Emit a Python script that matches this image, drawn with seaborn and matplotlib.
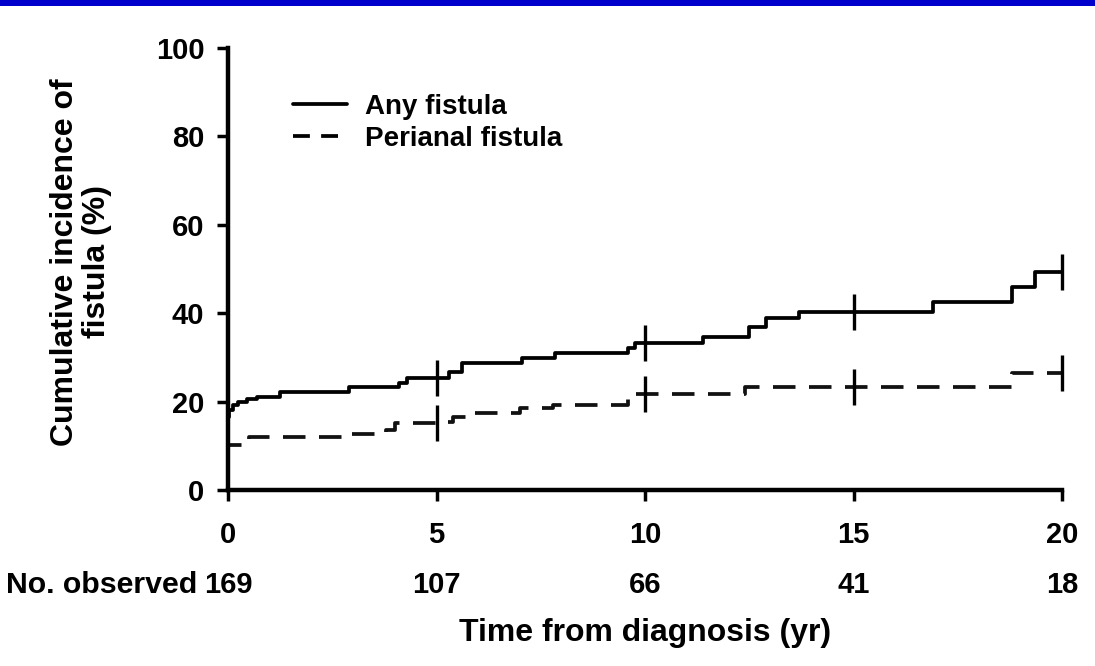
import numpy as np
import pandas as pd
import matplotlib
matplotlib.use("Agg")
import matplotlib.pyplot as plt
from matplotlib.lines import Line2D
from matplotlib.patches import Rectangle
import seaborn as sns

# ---- data ----
any_t = [0, 0, 0.03, 0.12, 0.25, 0.45, 0.7, 1.25, 2.9, 4.1, 4.3, 5.3, 5.6, 7.05, 7.85,
         9.6, 9.75, 11.4, 12.5, 12.9, 13.7, 16.9, 18.8, 19.35, 20]
any_v = [0, 16.5, 18.0, 19.2, 20.0, 20.6, 21.0, 22.2, 23.2, 24.3, 25.3, 26.7, 28.7, 29.9, 31.0,
         32.2, 33.3, 34.6, 36.9, 38.9, 40.3, 42.5, 45.9, 49.3, 49.3]

peri_t = [0, 0, 0.5, 2.9, 3.8, 4.0, 5.15, 5.4, 5.7, 7.0, 7.8, 9.6, 9.75, 12.4, 18.8, 20]
peri_v = [0, 10.2, 12.0, 12.7, 13.6, 15.2, 15.4, 16.5, 17.4, 18.5, 19.2, 20.8, 21.7, 23.3, 26.5, 26.5]

censor_times = [5, 10, 15, 20]
risk_times = [0, 5, 10, 15, 20]
n_observed = [169, 107, 66, 41, 18]
x_ticks = [0, 5, 10, 15, 20]
y_ticks = [0, 20, 40, 60, 80, 100]
series_names = ["Any fistula", "Perianal fistula"]


def step_value(ts, vs, t):
    idx = np.searchsorted(np.asarray(ts), t, side="right") - 1
    return vs[idx]


sns.set_theme(style="ticks")
plt.rcParams["font.family"] = ["Liberation Sans", "DejaVu Sans"]
plt.rcParams["font.weight"] = "bold"
for k in ["text.color", "axes.labelcolor", "xtick.color", "ytick.color", "axes.edgecolor"]:
    plt.rcParams[k] = "black"

W, H = 1095, 666
fig = plt.figure(figsize=(W / 100, H / 100), dpi=100)
fig.patch.set_facecolor("white")
fig.add_artist(Rectangle((0, 1 - 6 / H), 1, 6 / H, transform=fig.transFigure,
                         facecolor="#0000CC", edgecolor="none"))

x0, x1, y0, y1 = 228, 1062, 490, 48
ax = fig.add_axes([x0 / W, 1 - y0 / H, (x1 - x0) / W, (y0 - y1) / H])

df_any = pd.DataFrame({"t": any_t, "v": any_v})
df_peri = pd.DataFrame({"t": peri_t, "v": peri_v})

lw = 2.7
dash = (0, (6.0, 3.6))
sns.lineplot(data=df_any, x="t", y="v", ax=ax, estimator=None, sort=False,
             drawstyle="steps-post", color="black", lw=lw, clip_on=False)
sns.lineplot(data=df_peri, x="t", y="v", ax=ax, estimator=None, sort=False,
             drawstyle="steps-post", color="#111111", lw=lw, linestyle=dash, clip_on=False)

# censor marks
for ts, vs in [(any_t, any_v), (peri_t, peri_v)]:
    cv = [step_value(ts, vs, t) for t in censor_times]
    ax.plot(censor_times, cv, linestyle="none", marker="|", markersize=26,
            markeredgewidth=2.4, color="black", clip_on=False)

ax.set_xlim(0, 20)
ax.set_ylim(0, 100)
ax.set_xticks(x_ticks)
ax.set_yticks(y_ticks)
ax.set_xticklabels([str(v) for v in x_ticks])
ax.set_yticklabels([str(v) for v in y_ticks])
ax.tick_params(axis="x", length=8, width=2.5, pad=14, labelsize=21, color="black")
ax.tick_params(axis="y", length=8, width=2.5, pad=9, labelsize=21, color="black")
for lab in ax.get_xticklabels() + ax.get_yticklabels():
    lab.set_fontweight("bold")
for s in ["top", "right"]:
    ax.spines[s].set_visible(False)
for s in ["left", "bottom"]:
    ax.spines[s].set_linewidth(3.2)
    ax.spines[s].set_color("black")
ax.set_xlabel("")
ax.set_ylabel("")
ax.set_facecolor("white")

# legend
handles = [Line2D([], [], color="black", lw=lw),
           Line2D([], [], color="black", lw=lw, linestyle=(0, (4.5, 3.0)))]
ax.legend(handles, series_names, loc="upper left", frameon=False,
          bbox_to_anchor=((293 - x0) / (x1 - x0), (y0 - 94) / (y0 - y1)),
          handlelength=1.95, handletextpad=0.65, labelspacing=0.2,
          borderpad=0, borderaxespad=0, prop={"weight": "bold", "size": 20})

# number observed row
trans = ax.get_xaxis_transform()
for t, n in zip(risk_times, n_observed):
    ax.text(t, 1 - (585 - y1) / (y0 - y1), str(n), transform=trans,
            ha="center", va="center", fontsize=21, fontweight="bold", clip_on=False)
fig.text(197 / W, 1 - 585 / H, "No. observed", ha="right", va="center",
         fontsize=21.8, fontweight="bold")

# axis titles
fig.text(645 / W, 1 - 633 / H, "Time from diagnosis (yr)", ha="center", va="center",
         fontsize=23, fontweight="bold")
fig.text(81 / W, 1 - 262 / H, "Cumulative incidence of\nfistula (%)", ha="center",
         va="center", rotation=90, fontsize=23, fontweight="bold", linespacing=1.05,
         multialignment="center")

fig.savefig("out.png", dpi=100, facecolor="white")
